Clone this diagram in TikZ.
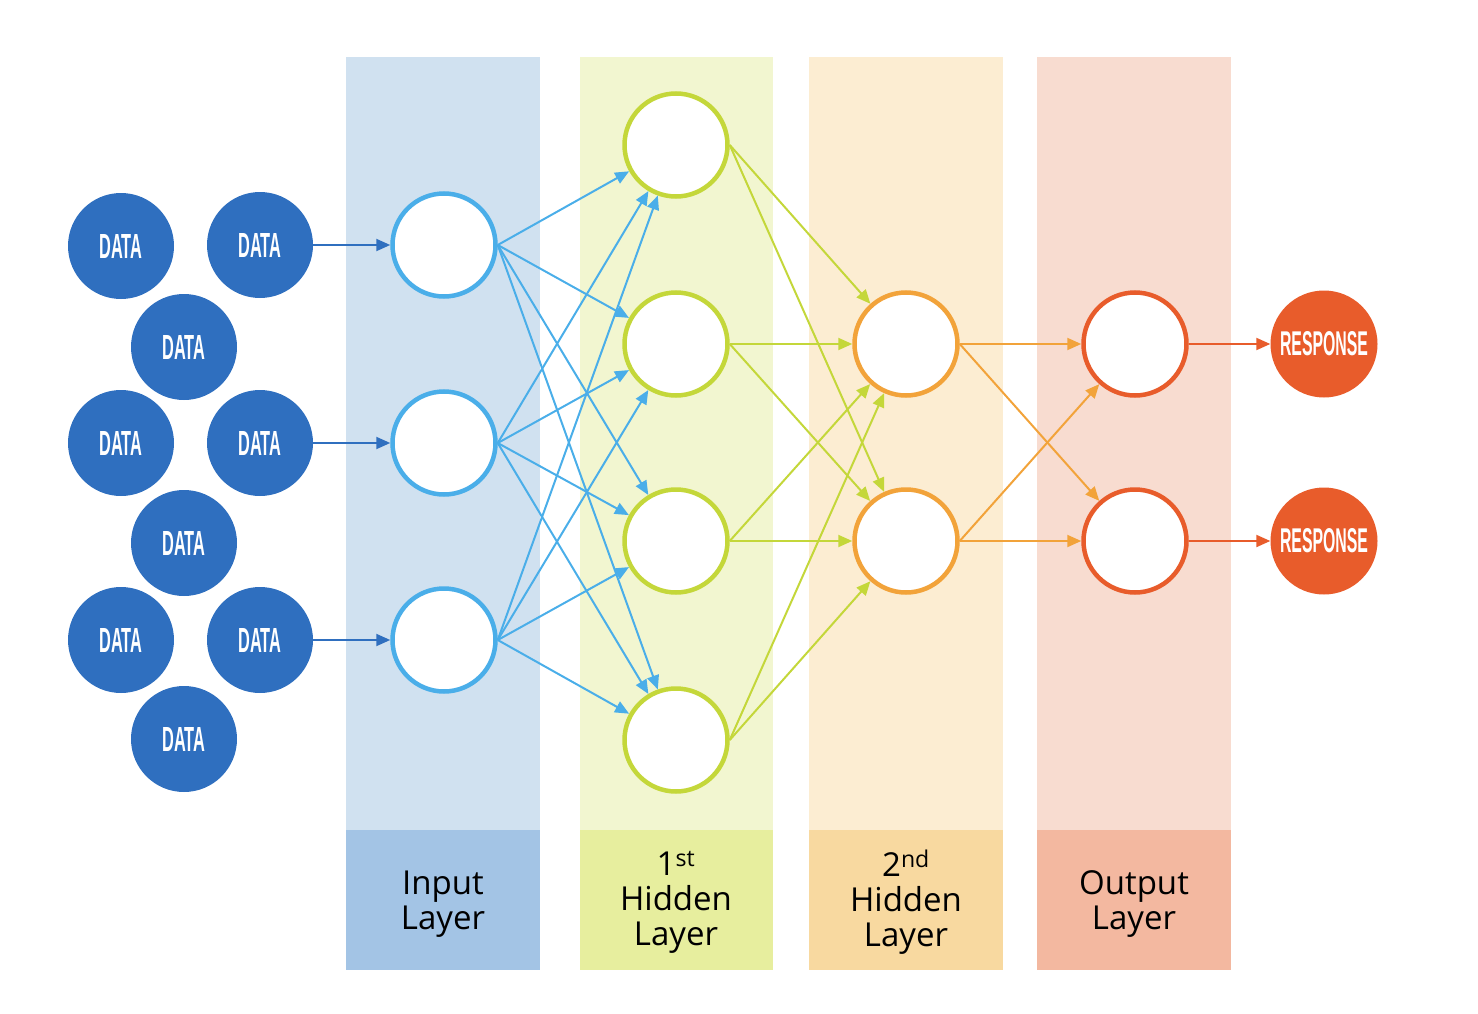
\documentclass[tikz,border=0pt]{standalone}
\usepackage{fontspec}
\setmainfont{Open Sans}
\newfontfamily\datafont{Liberation Sans}
\usetikzlibrary{arrows.meta}
\definecolor{bandIn}{HTML}{D0E1F0}
\definecolor{labIn}{HTML}{A3C4E5}
\definecolor{bandHa}{HTML}{F2F6D0}
\definecolor{labHa}{HTML}{E7EE9E}
\definecolor{bandHb}{HTML}{FCEDD2}
\definecolor{labHb}{HTML}{F8D9A0}
\definecolor{bandOut}{HTML}{F8DCD0}
\definecolor{labOut}{HTML}{F3B8A0}
\definecolor{dataBlue}{HTML}{2F6FBF}
\definecolor{inBlue}{HTML}{4AAEE9}
\definecolor{haGreen}{HTML}{C4D73A}
\definecolor{hbOrange}{HTML}{F2A33A}
\definecolor{outRed}{HTML}{E85C2B}
\newcommand\dtxt[1]{\resizebox{43pt}{24pt}{\datafont\bfseries #1}}
\newcommand\rtxt[1]{\resizebox{88pt}{24pt}{\datafont\bfseries #1}}
\begin{document}
\begin{tikzpicture}[x=1pt,y=-1pt,
  neuron/.style={circle, draw=#1, line width=4.5pt, fill=white, minimum size=103pt, inner sep=0pt},
  datanode/.style={circle, fill=dataBlue, minimum size=106pt, inner sep=0pt, text=white},
  respnode/.style={circle, fill=outRed, minimum size=107pt, inner sep=0pt, text=white},
  conn/.style={draw=#1, line width=2pt, -{Triangle[length=14pt,width=12pt]}},
  labtext/.style={font=\fontsize{33}{35}\selectfont, align=center, text=black, inner sep=0pt}
]
\useasboundingbox (0,0) rectangle (1478,1014);
% bands
\fill[bandIn] (346,57) rectangle (540,830);
\fill[labIn] (346,830) rectangle (540,970);
\fill[bandHa] (580,57) rectangle (773,830);
\fill[labHa] (580,830) rectangle (773,970);
\fill[bandHb] (809,57) rectangle (1003,830);
\fill[labHb] (809,830) rectangle (1003,970);
\fill[bandOut] (1037,57) rectangle (1231,830);
\fill[labOut] (1037,830) rectangle (1231,970);
% labels
\node[labtext] (lbIn) at (443,904) {Input\\Layer};
\node[labtext] (lbHa) at (676,902) {1\textsuperscript{st}\\Hidden\\Layer};
\node[labtext] (lbHb) at (906,902) {2\textsuperscript{nd}\\Hidden\\Layer};
\node[labtext] (lbOut) at (1134,904) {Output\\Layer};
% data nodes
\node[datanode] (d1) at (121,246) {\dtxt{DATA}};
\node[datanode] (d2) at (260,245) {\dtxt{DATA}};
\node[datanode] (d3) at (184,347) {\dtxt{DATA}};
\node[datanode] (d4) at (121,443) {\dtxt{DATA}};
\node[datanode] (d5) at (260,443) {\dtxt{DATA}};
\node[datanode] (d6) at (184,543) {\dtxt{DATA}};
\node[datanode] (d7) at (121,640) {\dtxt{DATA}};
\node[datanode] (d8) at (260,640) {\dtxt{DATA}};
\node[datanode] (d9) at (184,739) {\dtxt{DATA}};
% neurons
\node[neuron=inBlue] (i1) at (444,245) {};
\node[neuron=inBlue] (i2) at (444,443) {};
\node[neuron=inBlue] (i3) at (444,640) {};
\node[neuron=haGreen] (a1) at (676,145) {};
\node[neuron=haGreen] (a2) at (676,344) {};
\node[neuron=haGreen] (a3) at (676,541) {};
\node[neuron=haGreen] (a4) at (676,740) {};
\node[neuron=hbOrange] (b1) at (906,344) {};
\node[neuron=hbOrange] (b2) at (906,541) {};
\node[neuron=outRed] (o1) at (1135,344) {};
\node[neuron=outRed] (o2) at (1135,541) {};
\node[respnode] (r1) at (1324,344) {\rtxt{RESPONSE}};
\node[respnode] (r2) at (1324,541) {\rtxt{RESPONSE}};
% connectors
\draw[conn=dataBlue] (d2.east) -- (i1.west);
\draw[conn=dataBlue] (d5.east) -- (i2.west);
\draw[conn=dataBlue] (d8.east) -- (i3.west);
\foreach \i in {i1,i2,i3}
  \foreach \a in {a1,a2,a3,a4}
    \draw[conn=inBlue] (\i.east) -- (\a);
\foreach \a in {a1,a2,a3,a4}
  \foreach \b in {b1,b2}
    \draw[conn=haGreen] (\a.east) -- (\b);
\foreach \b in {b1,b2}
  \foreach \o in {o1,o2}
    \draw[conn=hbOrange] (\b.east) -- (\o);
\draw[conn=outRed] (o1.east) -- (r1.west);
\draw[conn=outRed] (o2.east) -- (r2.west);
\end{tikzpicture}
\end{document}
